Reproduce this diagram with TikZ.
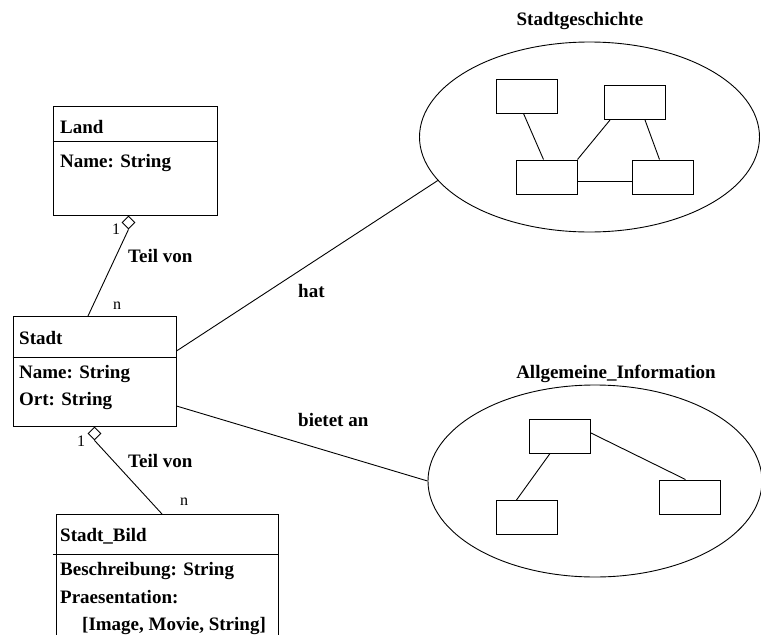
\documentclass[tikz,border=0pt]{standalone}
\usepackage{fontspec}
\setmainfont{Liberation Serif}
\usetikzlibrary{shapes.geometric, positioning, calc}

\begin{document}
\begin{tikzpicture}[
    x=1pt, y=-1pt,
    classbox/.style={draw, line width=1pt, inner sep=0pt},
    divider/.style={line width=1pt},
    attr/.style={anchor=base west, inner sep=0pt, font=\fontsize{19}{22}\selectfont\bfseries},
    relname/.style={anchor=base west, inner sep=0pt, font=\fontsize{19}{22}\selectfont\bfseries},
    heading/.style={anchor=base, inner sep=0pt, font=\fontsize{19}{22}\selectfont\bfseries},
    mult/.style={anchor=base west, inner sep=0pt, font=\fontsize{16}{18}\selectfont},
    aggr/.style={draw, diamond, fill=white, line width=0.9pt, inner sep=0pt, minimum width=13pt, minimum height=13pt},
    region/.style={draw, ellipse, line width=0.9pt, inner sep=0pt},
    smallbox/.style={draw, line width=1pt, inner sep=0pt, minimum width=61pt, minimum height=34pt},
    assoc/.style={line width=0.9pt},
]
\useasboundingbox (0,0) rectangle (761,635);
\clip (0,0) rectangle (761,635);

% Land class
\node[classbox, minimum width=164pt, minimum height=109pt] (land) at (135,160.5) {};
\draw[divider] (land.west |- 0,141) -- (land.east |- 0,141);
\node[attr] (landName) at (60,133) {Land};
\node[attr] (landAttr) at (60,167) {Name: String};

% Stadt class
\node[classbox, minimum width=163pt, minimum height=110pt] (stadt) at (94.5,371) {};
\draw[divider] (stadt.west |- 0,357) -- (stadt.east |- 0,357);
\node[attr] (stadtName) at (19,344) {Stadt};
\node[attr] (stadtAttrA) at (19,378) {Name: String};
\node[attr] (stadtAttrB) at (19,405) {Ort: String};

% Stadt_Bild class (runs off the page)
\node[classbox, anchor=north west, minimum width=222pt, minimum height=140pt] (bild) at (56,514) {};
\coordinate (bildDivL) at (53,554);
\draw[divider] (bildDivL) -- (bild.east |- bildDivL);
\node[attr] (bildName) at (60,541) {Stadt\_Bild};
\node[attr] (bildAttrA) at (60,575) {Beschreibung: String};
\node[attr] (bildAttrB) at (60,603) {Praesentation:};
\node[attr] (bildAttrC) at (82,630) {[Image, Movie, String]};

% Aggregations
\node[aggr, anchor=north] (landDia) at ([xshift=-6.5pt]land.south) {};
\node[aggr, anchor=north] (stadtDia) at (stadt.south) {};
\coordinate (stadtTop) at (88,316);
\coordinate (bildTop) at (162,514);
\draw[assoc] (landDia.south) -- (stadtTop);
\draw[assoc] (stadtDia.south) -- (bildTop);

\node[mult] (landOne) at (112,234) {1};
\node[mult] (stadtN) at (113,309) {n};
\node[relname] (teilA) at (128,262) {Teil von};
\node[mult] (stadtOne) at (77,446) {1};
\node[mult] (bildN) at (180,505) {n};
\node[relname] (teilB) at (128,467) {Teil von};

% Stadtgeschichte
\node[region, minimum width=340pt, minimum height=190pt] (gesch) at (589.5,137) {};
\node[heading] (geschTitle) at (580,25) {Stadtgeschichte};
\node[smallbox] (gA) at (526.5,96) {};
\node[smallbox] (gB) at (635,102.5) {};
\node[smallbox] (gC) at (546.5,177) {};
\node[smallbox] (gD) at (662.5,177) {};
\draw[assoc] ([xshift=-3pt]gA.south) -- ([xshift=-3pt]gC.north);
\draw[assoc] ([xshift=6pt]gB.south west) -- (gC.north east);
\draw[assoc] ([xshift=10pt]gB.south) -- ([xshift=-3pt]gD.north);
\draw[assoc] ([yshift=-4pt]gC.east) -- ([yshift=-4pt]gD.west);

% Allgemeine_Information
\node[region, minimum width=334pt, minimum height=192pt] (allg) at (595,481) {};
\node[heading] (allgTitle) at (616,378) {Allgemeine\_Information};
\node[smallbox] (aA) at (560,436) {};
\node[smallbox] (aB) at (526.5,517.5) {};
\node[smallbox] (aC) at (689.5,497) {};
\draw[assoc] ([xshift=-10pt]aA.south) -- ([xshift=-10pt]aB.north);
\draw[assoc] ([yshift=3pt]aA.east) -- ([xshift=-4pt]aC.north);

% Associations
\draw[assoc] ([yshift=20pt]stadt.east) -- (gesch.196);
\draw[assoc] ([yshift=-35pt]stadt.east) -- (allg.west);
\node[relname] (hatLbl) at (298,297) {hat};
\node[relname] (bietetLbl) at (298,426) {bietet an};

\end{tikzpicture}
\end{document}
